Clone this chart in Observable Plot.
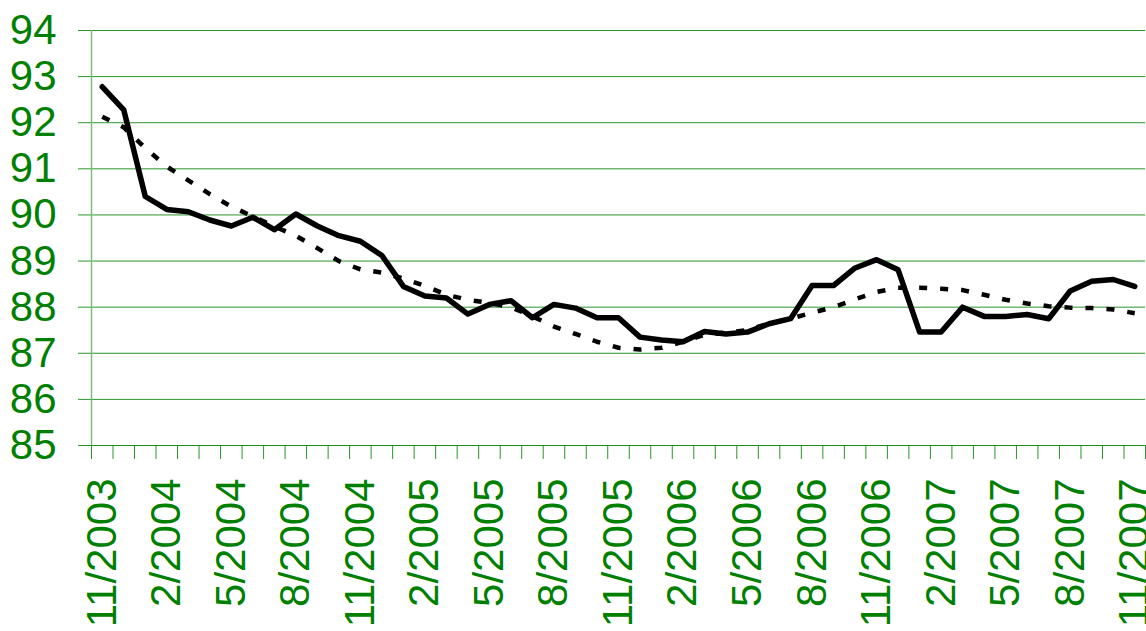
<!DOCTYPE html>
<html>
<head>
<meta charset="utf-8">
<script src="https://cdn.jsdelivr.net/npm/d3@7"></script>
<script src="https://cdn.jsdelivr.net/npm/@observablehq/plot@0.6"></script>
<style>
  html, body { margin: 0; padding: 0; background: #fff; }
  #chart { width: 1146px; height: 631px; overflow: hidden; }
</style>
</head>
<body>
<div id="chart"></div>
<script>
const months = [
  "11/2003","12/2003","1/2004","2/2004","3/2004","4/2004","5/2004","6/2004","7/2004","8/2004",
  "9/2004","10/2004","11/2004","12/2004","1/2005","2/2005","3/2005","4/2005","5/2005","6/2005",
  "7/2005","8/2005","9/2005","10/2005","11/2005","12/2005","1/2006","2/2006","3/2006","4/2006",
  "5/2006","6/2006","7/2006","8/2006","9/2006","10/2006","11/2006","12/2006","1/2007","2/2007",
  "3/2007","4/2007","5/2007","6/2007","7/2007","8/2007","9/2007","10/2007","11/2007"
];
const actual = [
  92.78, 92.28, 90.40, 90.12, 90.07, 89.89, 89.76, 89.95, 89.68, 90.02,
  89.76, 89.55, 89.43, 89.12, 88.45, 88.24, 88.20, 87.85, 88.06, 88.14,
  87.77, 88.06, 87.98, 87.77, 87.77, 87.35, 87.29, 87.25, 87.47, 87.42,
  87.46, 87.64, 87.75, 88.47, 88.47, 88.85, 89.03, 88.81, 87.46, 87.46,
  88.00, 87.80, 87.80, 87.84, 87.75, 88.35, 88.56, 88.60, 88.45
];
const trend = [
  92.13, 91.90, 91.45, 91.05, 90.75, 90.45, 90.18, 89.97, 89.75, 89.55,
  89.28, 89.00, 88.82, 88.75, 88.62, 88.46, 88.27, 88.16, 88.09, 88.00,
  87.80, 87.58, 87.42, 87.25, 87.12, 87.08, 87.12, 87.25, 87.40, 87.45,
  87.50, 87.65, 87.75, 87.88, 88.00, 88.17, 88.33, 88.42, 88.42, 88.40,
  88.37, 88.27, 88.16, 88.08, 88.02, 87.99, 87.98, 87.95, 87.87
];
const yTicks = [85, 86, 87, 88, 89, 90, 91, 92, 93, 94];
const labelEvery = 3;

const data = months.map((m, i) => ({i, month: m, actual: actual[i], trend: trend[i]}));
const labelIdx = months.map((m, i) => i).filter(i => i % labelEvery === 0);
const boundaries = d3.range(months.length + 1).map(i => i - 0.5);

const green = "#008000";
const font = "'Liberation Sans', Arial, sans-serif";

const chart = Plot.plot({
  width: 1146,
  height: 631,
  marginTop: 30,
  marginBottom: 186,
  marginLeft: 91,
  marginRight: 1,
  style: {fontFamily: font, background: "#fff", overflow: "visible"},
  x: {type: "linear", domain: [-0.5, months.length - 0.5]},
  y: {domain: [85, 94]},
  marks: [
    Plot.gridY(yTicks, {stroke: "#2a952a", strokeOpacity: 1, strokeWidth: 1}),
    Plot.axisY(yTicks, {
      tickSize: 13, tickPadding: 22, stroke: "#2a952a", strokeOpacity: 1,
      fill: green, fontSize: 42, tickFormat: d => String(d), label: null
    }),
    Plot.axisX(boundaries, {tickSize: 14, stroke: "#2a952a", tickFormat: () => "", label: null}),
    Plot.axisX(labelIdx, {
      tickSize: 0, tickPadding: 33, tickRotate: -90, textAnchor: "end", lineAnchor: "middle",
      fill: green, fontSize: 42, tickFormat: i => months[i], label: null
    }),
    Plot.ruleY([85], {stroke: "#1f8c1f", strokeWidth: 1.2}),
    Plot.ruleX([-0.5], {y1: 85, y2: 94, stroke: "#7cbf7c", strokeWidth: 1.5}),
    Plot.line(data, {x: "i", y: "actual", stroke: "#000", strokeWidth: 5.5, strokeLinejoin: "round"}),
    Plot.line(data, {x: "i", y: "trend", stroke: "#000", strokeWidth: 4.5, strokeDasharray: "8,13", strokeLinecap: "butt"})
  ]
});
document.getElementById("chart").appendChild(chart);
</script>
</body>
</html>
